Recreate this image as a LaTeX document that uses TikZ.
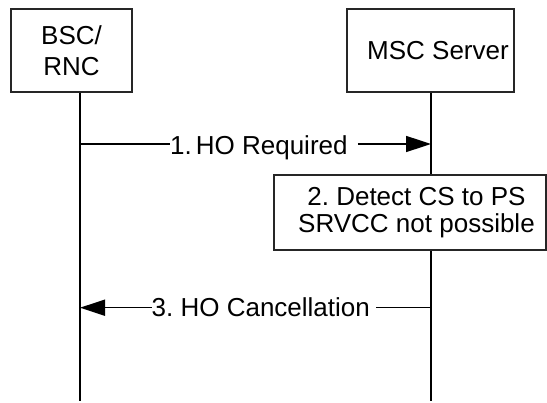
\documentclass[tikz,border=0pt]{standalone}
\usepackage{fontspec}
\setmainfont{Liberation Sans}
\usetikzlibrary{arrows.meta}
\frenchspacing
\begin{document}
\begin{tikzpicture}[x=1pt,y=-1pt,
  box/.style={draw=black!85, line width=1.1pt, fill=white, inner sep=0pt, align=center, font=\fontsize{26}{31}\selectfont},
  life/.style={line width=1.9pt},
  msg/.style={line width=1.6pt},
  lbl/.style={inner sep=0pt, font=\fontsize{26}{31}\selectfont},
  tip/.style={-{Triangle[length=25pt,width=16pt]}}
]
\useasboundingbox (0,0) rectangle (547,403);
\node[box, minimum width=121pt, minimum height=83pt] (bsc) at (71.5,50.5) {BSC/\\RNC};
\node[box, minimum width=167pt, minimum height=83pt] (msc) at (430.5,50.5) {\hspace*{15pt}MSC Server};
\coordinate (bscbot) at (80,401);
\coordinate (mscbot) at (431,401);
\draw[life] (bsc.south -| bscbot) -- (bscbot);
\draw[life] (msc.south -| mscbot) -- (mscbot);
\node[box, minimum width=272pt, minimum height=75pt, font=\fontsize{26}{27.6}\selectfont] (det) at (410,212.5) {\hspace*{13pt}2. Detect CS to PS\\\hspace*{13pt}SRVCC not possible};
% message 1
\coordinate (m1a) at (80,144);
\coordinate (m1b) at (431,144);
\node[lbl, anchor=base west] (m1) at (170,154.5) {1.\hspace{4pt}HO Required};
\draw[msg] (m1a) -- (m1a -| m1.west);
\draw[msg, tip] ([xshift=10pt]m1.east |- m1a) -- (m1b);
% message 3
\coordinate (m3a) at (80,307.7);
\coordinate (m3b) at (431,307.7);
\node[lbl, anchor=base west] (m3) at (151.5,316.5) {3. HO Cancellation};
\draw[msg, tip] (m3.west |- m3a) -- (m3a);
\draw[msg] ([xshift=6pt]m3.east |- m3b) -- (m3b);
\end{tikzpicture}
\end{document}
